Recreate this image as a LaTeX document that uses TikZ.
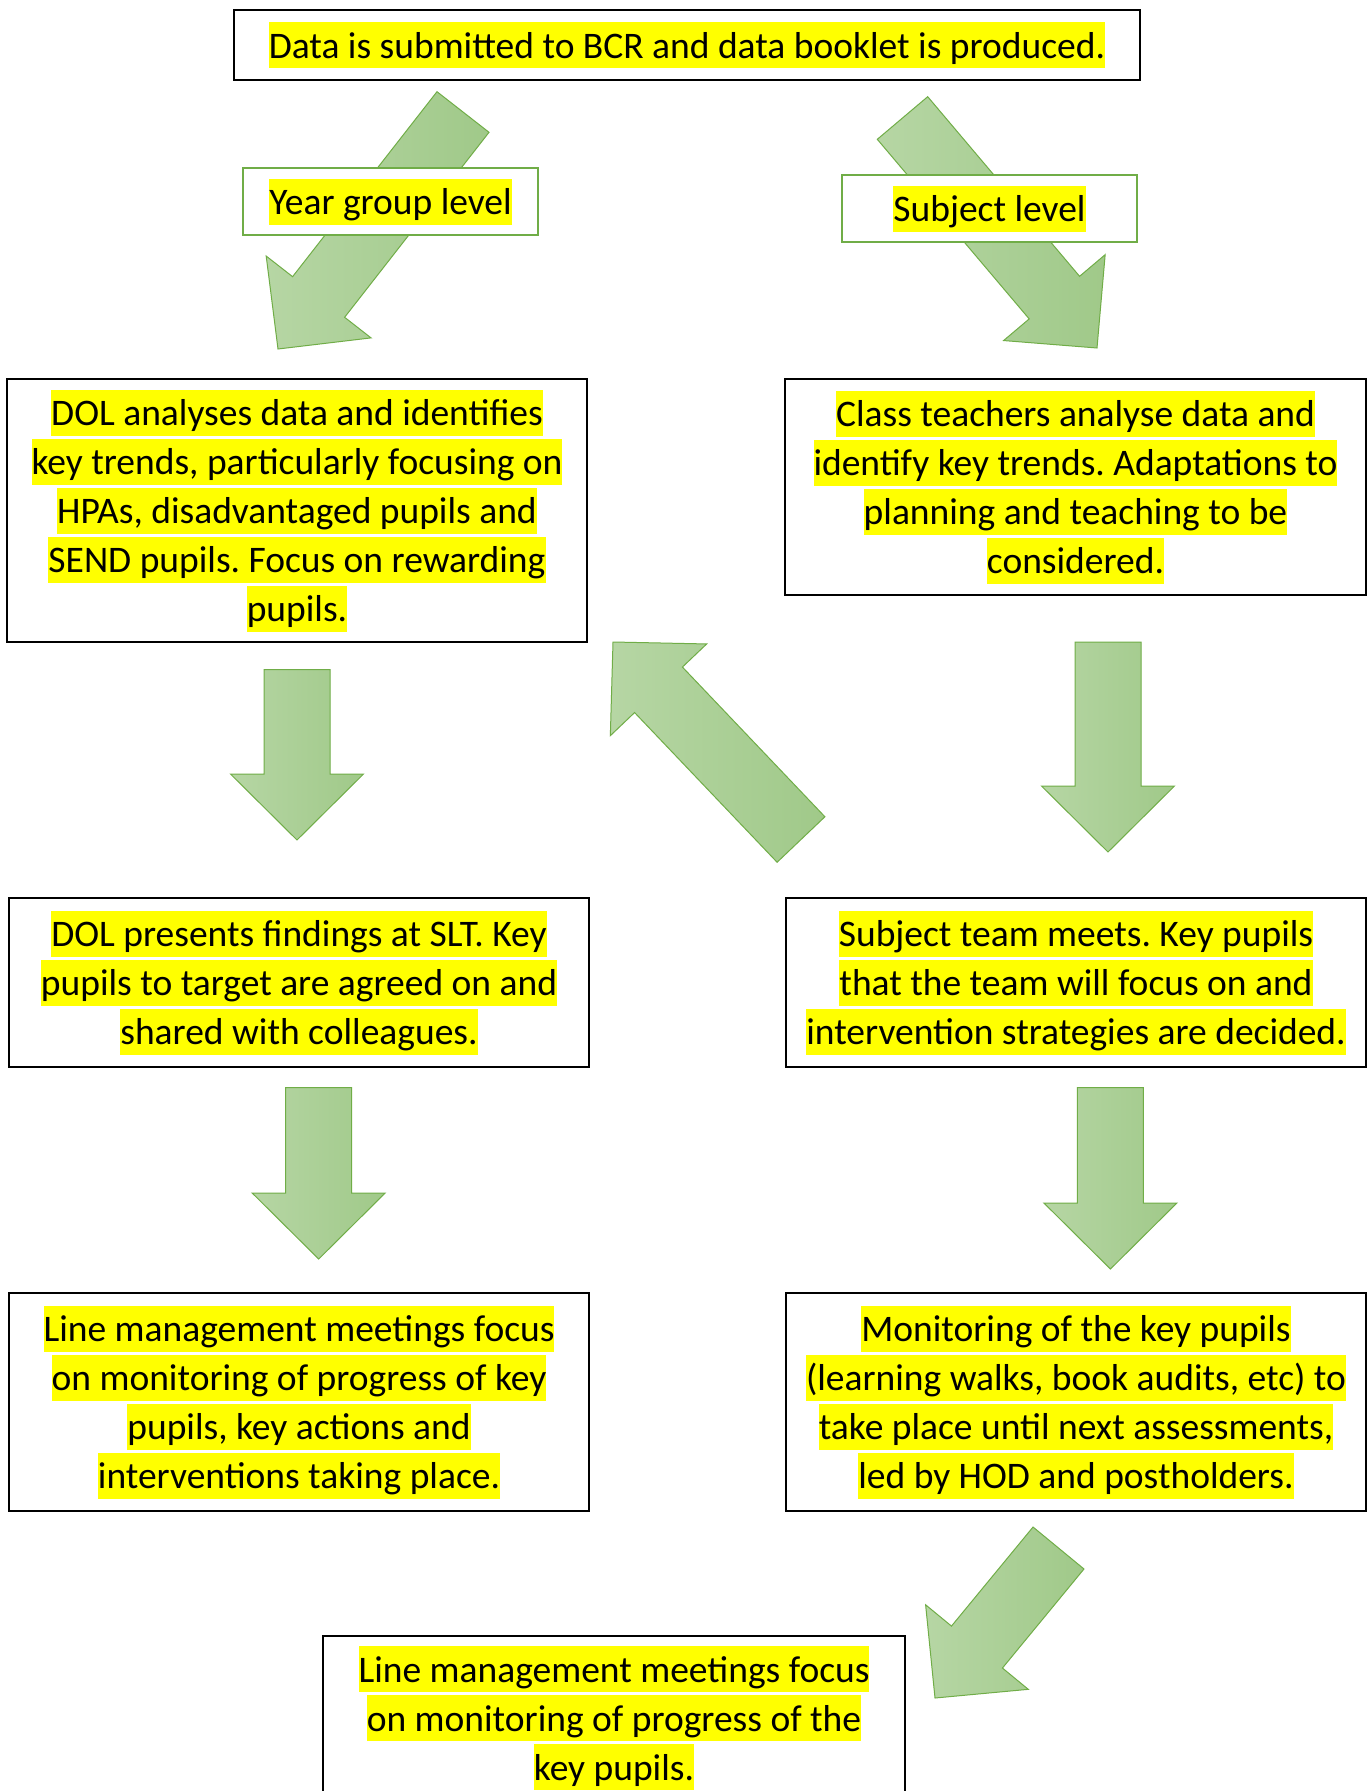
\documentclass[tikz,border=0pt]{standalone}
\usepackage{fontspec}
\setmainfont{Carlito}
\frenchspacing
\usetikzlibrary{calc,positioning}
\definecolor{hlyellow}{RGB}{255,255,0}
\definecolor{arrowlight}{RGB}{182,214,164}
\definecolor{arrowdark}{RGB}{160,201,137}
\definecolor{arrowedge}{RGB}{112,173,71}
\newcommand{\hl}[1]{{\setlength{\fboxsep}{0pt}\colorbox{hlyellow}{\rule[-10pt]{0pt}{46pt}#1}}}
\newcommand{\blockarrow}[2]{%
  \coordinate (#1b) at ($(#2)!66pt!(#1)$);
  \draw[bigarrow] ($(#1)!33pt!90:(#2)$) -- ($(#1b)!33pt!90:(#2)$) -- ($(#1b)!66.5pt!90:(#2)$) -- (#2)
    -- ($(#1b)!66.5pt!-90:(#2)$) -- ($(#1b)!33pt!-90:(#2)$) -- ($(#1)!33pt!-90:(#2)$) -- cycle;}

\begin{document}
\begin{tikzpicture}[x=1pt,y=-1pt,
    box/.style={draw=black,line width=1.5pt,fill=white,align=center,inner sep=0pt,font=\fontsize{37.5}{49}\selectfont},
    lvl/.style={box,draw=arrowedge,line width=2pt},
    bigarrow/.style={draw=arrowedge,line width=1pt,left color=arrowlight,right color=arrowdark}]
     \clip (0,0) rectangle (1372,1791);
     \fill[white] (0,0) rectangle (1372,1791);

     \coordinate (a1) at (463,112);    \coordinate (a1e) at (278,349);
     \coordinate (a2) at (902.5,118);  \coordinate (a2e) at (1097,348);
     \coordinate (a3) at (297,669.5);  \coordinate (a3e) at (297,840);
     \coordinate (a4) at (801,839.5);  \coordinate (a4e) at (613,642);
     \coordinate (a5) at (1108,642);   \coordinate (a5e) at (1108,852);
     \coordinate (a6) at (318.7,1087.6); \coordinate (a6e) at (318.7,1259);
     \coordinate (a7) at (1110.4,1087.6); \coordinate (a7e) at (1110.4,1269);
     \coordinate (a8) at (1058.5,1548); \coordinate (a8e) at (935,1698);
     \blockarrow{a1}{a1e}
     \blockarrow{a2}{a2e}
     \blockarrow{a3}{a3e}
     \blockarrow{a4}{a4e}
     \blockarrow{a5}{a5e}
     \blockarrow{a6}{a6e}
     \blockarrow{a7}{a7e}
     \blockarrow{a8}{a8e}

     \node[box,minimum width=906,minimum height=70] (data) at (687,45) {\hl{Data is submitted to BCR and data booklet is produced.}};
     \node[lvl,minimum width=295,minimum height=67] (yr) at (390.5,201.5) {\hl{Year group level}};
     \node[lvl,minimum width=295,minimum height=67] (subj) at (989.5,208.5) {\hl{Subject level}};

     \node[box,minimum width=580,minimum height=263] (dol) at (297,510.5) {\hl{DOL analyses data and identifies}\\\hl{key trends, particularly focusing on}\\\hl{HPAs, disadvantaged pupils and}\\\hl{SEND pupils. Focus on rewarding}\\\hl{pupils.}};
     \node[box,minimum width=581,minimum height=216] (cls) at (1075.5,487) {\hl{Class teachers analyse data and}\\\hl{identify key trends. Adaptations to}\\\hl{planning and teaching to be}\\\hl{considered.}};
     \node[box,minimum width=580,minimum height=169] (slt) at (299,982.5) {\hl{DOL presents findings at SLT. Key}\\\hl{pupils to target are agreed on and}\\\hl{shared with colleagues.}};
     \node[box,minimum width=580,minimum height=169] (team) at (1076,982.5) {\hl{Subject team meets. Key pupils}\\\hl{that the team will focus on and}\\\hl{intervention strategies are decided.}};
     \node[box,minimum width=580,minimum height=218] (lm1) at (299,1402) {\hl{Line management meetings focus}\\\hl{on monitoring of progress of key}\\\hl{pupils, key actions and}\\\hl{interventions taking place.}};
     \node[box,minimum width=580,minimum height=218] (mon) at (1076,1402) {\hl{Monitoring of the key pupils}\\\hl{(learning walks, book audits, etc) to}\\\hl{take place until next assessments,}\\\hl{led by HOD and postholders.}};
     \node[box,minimum width=582,minimum height=164] (lm2) at (614,1718) {\hl{Line management meetings focus}\\\hl{on monitoring of progress of the}\\\hl{key pupils.}};
    \end{tikzpicture}
\end{document}
